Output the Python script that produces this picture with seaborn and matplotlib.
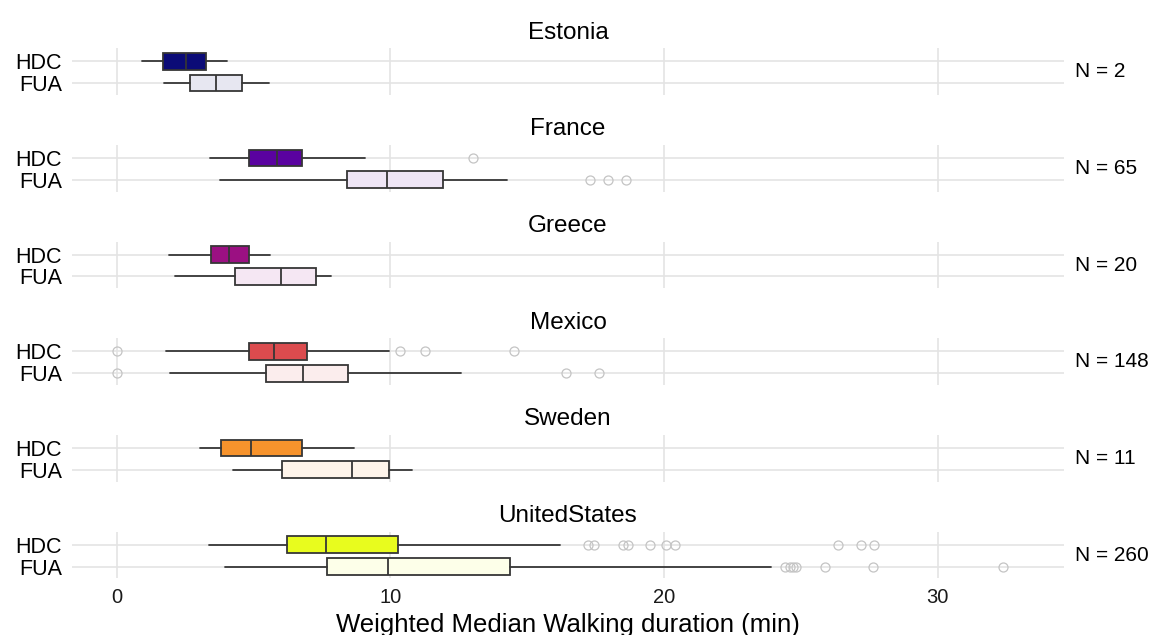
import matplotlib
matplotlib.use("Agg")
import matplotlib.pyplot as plt
from matplotlib.colors import to_rgb
import pandas as pd
import seaborn as sns

# Countries (facets) and number of cities per country
countries = ["Estonia", "France", "Greece", "Mexico", "Sweden", "UnitedStates"]
city_counts = [2, 65, 20, 148, 11, 260]

# Box statistics (minutes) for the high-density centres (HDC)
hdc_low = [0.94, 3.41, 1.93, 1.79, 3.06, 3.36]
hdc_q1 = [1.71, 4.85, 3.44, 4.83, 3.83, 6.21]
hdc_med = [2.52, 5.86, 4.11, 5.76, 4.91, 7.64]
hdc_q3 = [3.26, 6.77, 4.84, 6.97, 6.77, 10.30]
hdc_high = [4.02, 9.08, 5.61, 9.96, 8.66, 16.21]
hdc_outliers = [
    [],
    [13.02],
    [],
    [0.0, 10.34, 11.26, 14.52],
    [],
    [17.24, 17.46, 18.49, 18.68, 19.48, 20.07, 20.40, 26.35, 27.20, 27.69],
]

# Box statistics (minutes) for the functional urban areas (FUA)
fua_low = [1.75, 3.78, 2.13, 1.97, 4.27, 3.96]
fua_q1 = [2.69, 8.41, 4.32, 5.47, 6.04, 7.69]
fua_med = [3.65, 9.88, 6.02, 6.83, 8.59, 9.93]
fua_q3 = [4.60, 11.93, 7.29, 8.44, 9.97, 14.37]
fua_high = [5.57, 14.28, 7.85, 12.60, 10.80, 23.92]
fua_outliers = [
    [],
    [17.31, 17.97, 18.63],
    [],
    [0.0, 16.44, 17.62],
    [],
    [24.44, 24.62, 24.72, 24.81, 25.89, 27.64, 32.39],
]

country_colors = ["#0B0B77", "#5A02A0", "#9B1082", "#DB4B4E", "#F7932C", "#E8FC1E"]
unit_order = ["FUA", "HDC"]
x_ticks = [0, 10, 20, 30]

rows = []
for i, c in enumerate(countries):
    rows.append(dict(country=c, unit="HDC", low=hdc_low[i], q1=hdc_q1[i],
                     med=hdc_med[i], q3=hdc_q3[i], high=hdc_high[i],
                     outliers=hdc_outliers[i], n=city_counts[i]))
    rows.append(dict(country=c, unit="FUA", low=fua_low[i], q1=fua_q1[i],
                     med=fua_med[i], q3=fua_q3[i], high=fua_high[i],
                     outliers=fua_outliers[i], n=city_counts[i]))
stats = pd.DataFrame(rows)

sns.set_theme(style="whitegrid")
plt.rcParams["font.family"] = ["Liberation Sans", "DejaVu Sans"]

EDGE = "#363636"


def tint(color, alpha=0.1):
    r, g, b = to_rgb(color)
    return (1 - alpha + alpha * r, 1 - alpha + alpha * g, 1 - alpha + alpha * b)


def draw_boxes(data, **kws):
    ax = plt.gca()
    country = data["country"].iloc[0]
    k = countries.index(country)
    for _, r in data.iterrows():
        face = country_colors[k] if r["unit"] == "HDC" else tint(country_colors[k])
        st = [dict(whislo=r["low"], q1=r["q1"], med=r["med"], q3=r["q3"],
                   whishi=r["high"], fliers=list(r["outliers"]))]
        ax.bxp(st, positions=[unit_order.index(r["unit"])], widths=0.77,
               orientation="horizontal", patch_artist=True, showcaps=False,
               boxprops=dict(facecolor=face, edgecolor=EDGE, linewidth=1.3),
               medianprops=dict(color=EDGE, linewidth=1.3),
               whiskerprops=dict(color=EDGE, linewidth=1.3),
               flierprops=dict(marker="o", markerfacecolor="none",
                               markeredgecolor="#c4c4c4", markersize=6.5,
                               markeredgewidth=0.9),
               manage_ticks=False, zorder=3)
    ax.text(1.011, 0.5, f"N = {data['n'].iloc[0]}", transform=ax.transAxes,
            ha="left", va="center", fontsize=15, color="black")


g = sns.FacetGrid(stats, row="country", row_order=countries, sharex=True,
                  sharey=False, height=1.06, aspect=10.9, despine=False)
g.map_dataframe(draw_boxes)

fig = g.figure
fig.set_size_inches(11.53, 6.35)

for ax, c in zip(g.axes.flat, countries):
    ax.set_facecolor("white")
    ax.set_title(c, fontsize=17.5, pad=7, color="black")
    ax.set_xlim(-1.63, 34.62)
    ax.set_ylim(-0.55, 1.6)
    ax.set_yticks([0, 1])
    ax.set_yticklabels(unit_order, fontsize=15.5, color="black")
    ax.set_xticks(x_ticks)
    ax.set_xticklabels([str(t) for t in x_ticks], fontsize=14.5, color="#1a1a1a")
    ax.grid(True, color="#e4e4e4", linewidth=1.2)
    ax.set_axisbelow(True)
    ax.tick_params(axis="y", length=0, pad=7)
    ax.tick_params(axis="x", length=0, pad=7)
    ax.set_ylabel("")
    ax.set_xlabel("")
    for s in ax.spines.values():
        s.set_visible(False)

g.axes.flat[-1].set_xlabel("Weighted Median Walking duration (min)",
                           fontsize=18.5, labelpad=4, color="black")

fig.subplots_adjust(left=0.0624, right=0.9228, top=0.9239, bottom=0.0890,
                    hspace=1.07)
fig.savefig("out.png", dpi=100, facecolor="white")
